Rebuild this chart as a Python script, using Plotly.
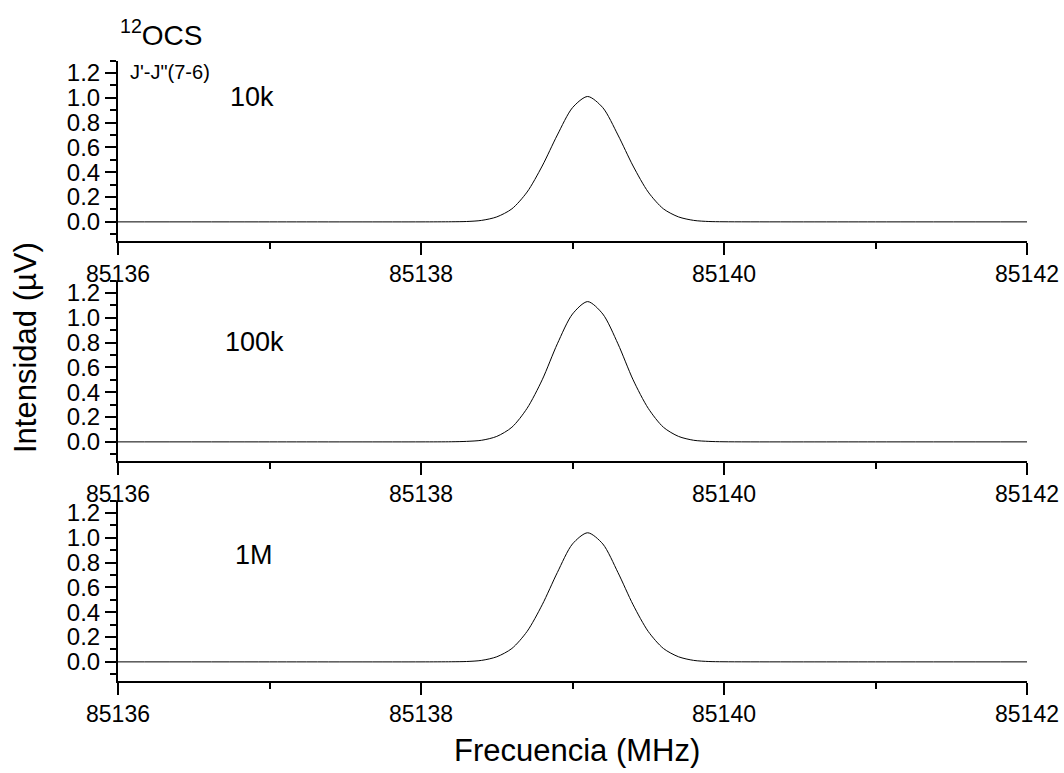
import plotly.graph_objects as go

W, H = 1064, 773

# Data
freq = [85136.0, 85137.0, 85138.0, 85138.2, 85138.3, 85138.4, 85138.5, 85138.6, 85138.7,
        85138.8, 85138.9, 85139.0, 85139.1, 85139.2, 85139.3, 85139.4, 85139.5,
        85139.6, 85139.7, 85139.8, 85139.9, 85140.0, 85141.0, 85142.0]
int_10k = [0, 0, 0, 0.001, 0.003, 0.012, 0.04, 0.105, 0.24, 0.45, 0.70, 0.92, 1.01,
           0.92, 0.70, 0.45, 0.24, 0.105, 0.04, 0.012, 0.003, 0.001, 0, 0]
int_100k = [0, 0, 0, 0.001, 0.004, 0.013, 0.044, 0.118, 0.27, 0.50, 0.79, 1.03, 1.13,
            1.03, 0.79, 0.50, 0.27, 0.118, 0.044, 0.013, 0.004, 0.001, 0, 0]
int_1M = [0, 0, 0, 0.001, 0.003, 0.012, 0.041, 0.108, 0.245, 0.46, 0.72, 0.95, 1.04,
          0.95, 0.72, 0.46, 0.245, 0.108, 0.041, 0.012, 0.003, 0.001, 0, 0]
series = [int_10k, int_100k, int_1M]
panel_labels = ["10k", "100k", "1M"]
x_ticks = [85136, 85138, 85140, 85142]
y_ticks = [0.0, 0.2, 0.4, 0.6, 0.8, 1.0, 1.2]

FONT = "Arial, Liberation Sans, sans-serif"

def py(p):
    return (H - p) / H

def px(p):
    return p / W

# panel pixel spans (top, bottom)
spans = [(60.5, 240.5), (280.5, 460.5), (500.5, 680.5)]
xdom = [px(118), px(1027)]

fig = go.Figure()
layout = dict(
    template="none",
    width=W, height=H, margin=dict(l=0, r=0, t=0, b=0, pad=0), autosize=False,
    paper_bgcolor="white", plot_bgcolor="white", showlegend=False,
    font=dict(family=FONT, color="black"),
)

for i, ys in enumerate(series):
    n = "" if i == 0 else str(i + 1)
    fig.add_trace(go.Scatter(x=freq, y=ys, mode="lines",
                             line=dict(color="black", width=1, shape="spline", smoothing=0.8),
                             xaxis="x" + n, yaxis="y" + n, hoverinfo="skip"))
    top, bot = spans[i]
    layout["xaxis" + n] = dict(
        domain=xdom, anchor="y" + n, range=[85136, 85142], automargin=False,
        tickvals=x_ticks, ticktext=[str(v) for v in x_ticks],
        ticks="outside", ticklen=12, tickwidth=2, tickcolor="black",
        minor=dict(dtick=1, tick0=85136, ticks="outside", ticklen=6, tickwidth=2, tickcolor="black"),
        showline=True, linecolor="black", linewidth=2, showgrid=False, zeroline=False,
        tickfont=dict(size=23, family=FONT, color="black"), fixedrange=True,
    )
    layout["yaxis" + n] = dict(
        domain=[py(bot), py(top)], anchor="x" + n, range=[-0.15, 1.3], automargin=False,
        tickvals=y_ticks, ticktext=["%.1f" % v for v in y_ticks],
        ticks="outside", ticklen=11, tickwidth=2, tickcolor="black",
        minor=dict(dtick=0.1, tick0=0, ticks="outside", ticklen=6, tickwidth=2, tickcolor="black"),
        showline=True, linecolor="black", linewidth=2, showgrid=False, zeroline=False,
        tickfont=dict(size=24, family=FONT, color="black"), fixedrange=True,
    )

fig.update_layout(**layout)

ann = []
label_pos = [(252, 97), (254, 342), (254, 555)]
for lab, (x, y) in zip(panel_labels, label_pos):
    ann.append(dict(x=px(x), y=py(y), xref="paper", yref="paper", text=lab, showarrow=False,
                    xanchor="center", yanchor="middle", font=dict(size=27, family=FONT, color="black")))
ann.append(dict(x=px(161), y=py(33), xref="paper", yref="paper", text="<sup>12</sup>OCS",
                showarrow=False, xanchor="center", yanchor="middle",
                font=dict(size=28, family=FONT, color="black")))
ann.append(dict(x=px(128), y=py(72), xref="paper", yref="paper", text="J'-J\"(7-6)",
                showarrow=False, xanchor="left", yanchor="middle",
                font=dict(size=20, family=FONT, color="black")))
ann.append(dict(x=px(577), y=py(750), xref="paper", yref="paper", text="Frecuencia (MHz)",
                showarrow=False, xanchor="center", yanchor="middle",
                font=dict(size=31, family=FONT, color="black")))
ann.append(dict(x=px(25), y=py(348), xref="paper", yref="paper", text="Intensidad (µV)",
                showarrow=False, xanchor="center", yanchor="middle", textangle=-90,
                font=dict(size=31, family=FONT, color="black")))
fig.update_layout(annotations=ann)

fig.write_html("out.html")
